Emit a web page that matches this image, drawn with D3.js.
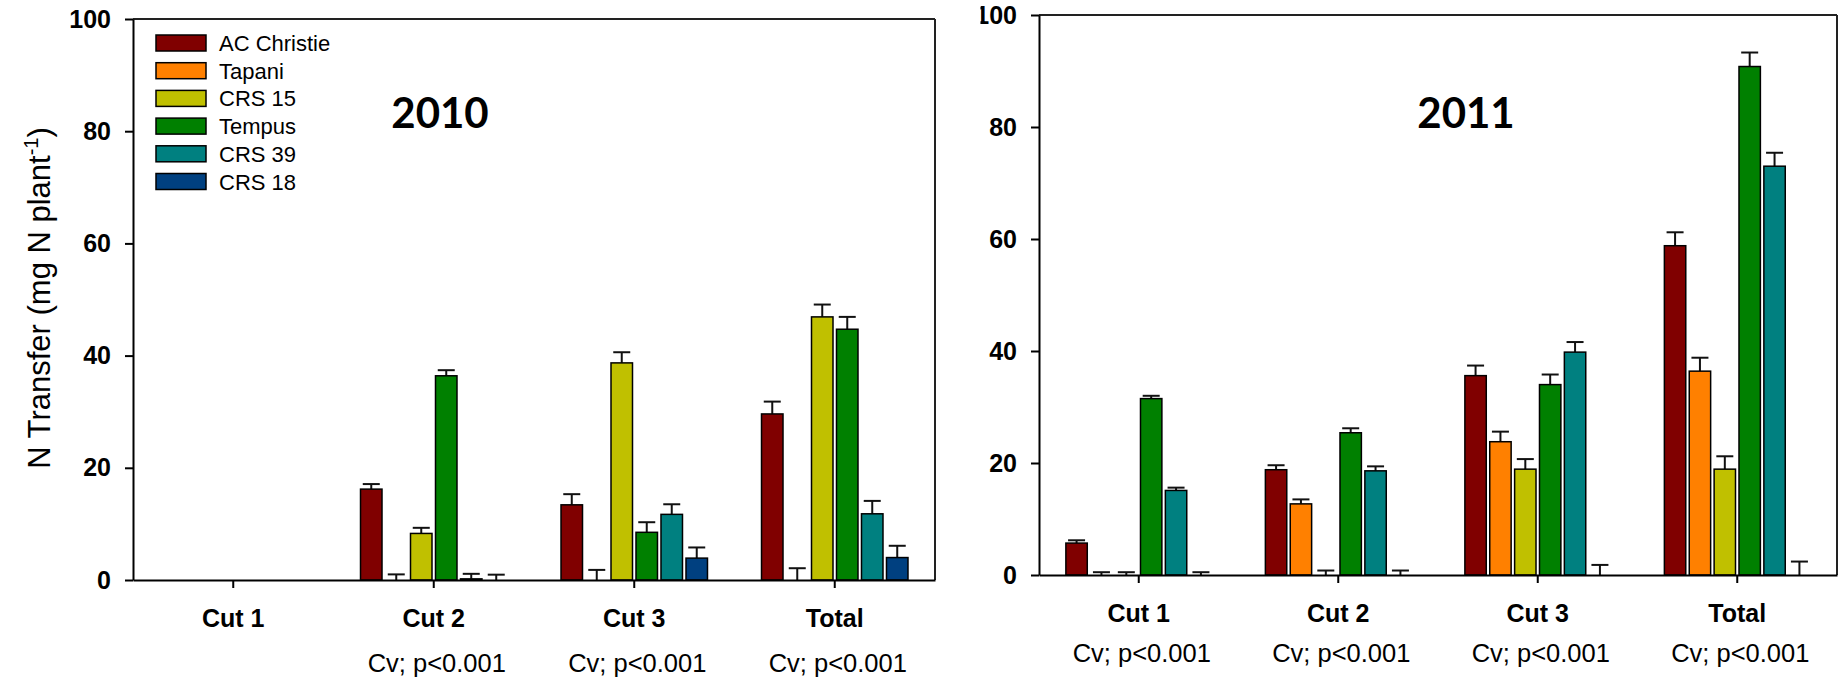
<!DOCTYPE html>
<html>
<head>
<meta charset="utf-8">
<script src="https://cdn.jsdelivr.net/npm/d3@7"></script>
<style>
  body { margin: 0; background: #fff; }
  svg { display: block; }
</style>
</head>
<body>
<svg id="chart" width="1843" height="679"></svg>
<script>
// data (mg N plant-1), mean and standard error
var series = ["AC Christie", "Tapani", "CRS 15", "Tempus", "CRS 39", "CRS 18"];
var colors = ["#800000", "#ff8000", "#c0c000", "#008000", "#008080", "#004080"];
var cuts = ["Cut 1", "Cut 2", "Cut 3", "Total"];
var yTicks = [0, 20, 40, 60, 80, 100];

var stats2010 = ["", "Cv; p<0.001", "Cv; p<0.001", "Cv; p<0.001"];
var stats2011 = ["Cv; p<0.001", "Cv; p<0.001", "Cv; p<0.001", "Cv; p<0.001"];

var mean2010 = [
    [null, null, null, null, null, null],
    [16.2, 0, 8.3, 36.4, 0.2, 0],
    [13.4, 0, 38.7, 8.5, 11.7, 3.9],
    [29.6, 0, 46.9, 44.7, 11.8, 4.0]
];
var se2010 = [
    [null, null, null, null, null, null],
    [0.9, 1.0, 1.0, 1.0, 0.9, 0.95],
    [1.9, 1.8, 1.9, 1.8, 1.8, 1.9],
    [2.2, 2.1, 2.2, 2.2, 2.3, 2.1]
];
var mean2011 = [
    [5.7, 0, 0, 31.5, 15.1, 0],
    [18.8, 12.7, 0, 25.4, 18.6, 0],
    [35.6, 23.8, 18.9, 34.0, 39.8, 0],
    [58.8, 36.4, 18.9, 90.8, 73.0, 0]
];
var se2011 = [
    [0.5, 0.5, 0.5, 0.5, 0.5, 0.5],
    [0.8, 0.8, 0.8, 0.8, 0.8, 0.8],
    [1.8, 1.8, 1.8, 1.8, 1.8, 1.8],
    [2.4, 2.4, 2.3, 2.5, 2.4, 2.4]
];

var arial = "'Liberation Sans', Arial, sans-serif";
var svg = d3.select("#chart");

// right panel was cropped on its left side in the original figure
svg.append("defs").append("clipPath").attr("id", "clipRight")
    .append("rect").attr("x", 980.5).attr("y", 0).attr("width", 900).attr("height", 679);

function drawPanel(g, p) {
    var x0 = d3.scaleBand().domain(cuts).range([p.left, p.right]);
    var x1 = d3.scaleBand().domain(series)
        .range([x0.bandwidth() * 0.126, x0.bandwidth() * 0.874])
        .paddingInner(0.14).paddingOuter(0.07);
    var y = d3.scaleLinear().domain([0, 100]).range([p.bottom, p.top]);

    // flatten into one row per bar
    var rows = [];
    cuts.forEach(function(c, i) {
        series.forEach(function(s, j) {
            if (p.mean[i][j] !== null) {
                rows.push({cut: c, name: s, color: colors[j], value: p.mean[i][j], se: p.se[i][j]});
            }
        });
    });

    var bars = g.append("g").selectAll("g.bar")
        .data(rows)
        .enter()
        .append("g")
        .attr("class", "bar")
        .attr("transform", function(d) { return "translate(" + (x0(d.cut) + x1(d.name)) + ",0)"; });

    // error bars (upper only)
    var bw = x1.bandwidth();
    bars.append("line")
        .attr("x1", bw / 2).attr("x2", bw / 2)
        .attr("y1", function(d) { return y(d.value); })
        .attr("y2", function(d) { return y(d.value + d.se); })
        .attr("stroke", "#111").attr("stroke-width", 2);
    bars.append("line")
        .attr("x1", bw / 2 - 8.5).attr("x2", bw / 2 + 8.5)
        .attr("y1", function(d) { return y(d.value + d.se); })
        .attr("y2", function(d) { return y(d.value + d.se); })
        .attr("stroke", "#111").attr("stroke-width", 2);

    bars.filter(function(d) { return d.value > 0; })
        .append("rect")
        .attr("x", 0)
        .attr("width", bw)
        .attr("y", function(d) { return y(d.value); })
        .attr("height", function(d) { return y(0) - y(d.value); })
        .attr("fill", function(d) { return d.color; })
        .attr("stroke", "#000")
        .attr("stroke-width", 1.5);

    // frame
    g.append("line").attr("x1", p.left).attr("x2", p.right).attr("y1", p.top).attr("y2", p.top)
        .attr("stroke", "#222").attr("stroke-width", 2);
    g.append("line").attr("x1", p.right).attr("x2", p.right).attr("y1", p.top).attr("y2", p.bottom)
        .attr("stroke", "#222").attr("stroke-width", 2);

    // axes
    var yAxis = g.append("g")
        .attr("transform", "translate(" + p.left + ",0)")
        .call(d3.axisLeft(y).tickValues(yTicks).tickSize(8).tickSizeOuter(0).tickPadding(14));
    yAxis.selectAll("text")
        .attr("font-family", arial).attr("font-size", 25).attr("font-weight", "bold").attr("fill", "#000");

    var xAxis = g.append("g")
        .attr("transform", "translate(0," + p.bottom + ")")
        .call(d3.axisBottom(x0).tickSize(8).tickSizeOuter(0).tickFormat(""));

    g.selectAll(".domain, .tick line").attr("stroke", "#000").attr("stroke-width", 2);

    // category labels and stats
    g.append("g").selectAll("text")
        .data(cuts)
        .enter()
        .append("text")
        .attr("x", function(d) { return x0(d) + x0.bandwidth() / 2; })
        .attr("y", p.bottom + 47)
        .attr("text-anchor", "middle")
        .attr("font-family", arial).attr("font-size", 25).attr("font-weight", "bold")
        .text(function(d) { return d; });

    g.append("g").selectAll("text")
        .data(p.stats)
        .enter()
        .append("text")
        .attr("x", function(d, i) { return x0(cuts[i]) + x0.bandwidth() / 2 + 3; })
        .attr("y", p.statsY)
        .attr("text-anchor", "middle")
        .attr("font-family", arial).attr("font-size", 25.5)
        .text(function(d) { return d; });

    g.append("text")
        .attr("x", p.titleX).attr("y", 128)
        .attr("text-anchor", "middle")
        .attr("font-family", "Lato, 'Open Sans', sans-serif").attr("font-size", 42).attr("font-weight", "bold")
        .text(p.title);
}

var left = svg.append("g");
drawPanel(left, {left: 133, right: 935, top: 19, bottom: 580, mean: mean2010, se: se2010,
    stats: stats2010, statsY: 672, title: "2010", titleX: 440});

var right = svg.append("g").attr("clip-path", "url(#clipRight)");
drawPanel(right, {left: 1039, right: 1837, top: 15, bottom: 575, mean: mean2011, se: se2011,
    stats: stats2011, statsY: 662, title: "2011", titleX: 1466});

// legend (left panel)
var legend = left.append("g").selectAll("g")
    .data(series)
    .enter()
    .append("g")
    .attr("transform", function(d, i) { return "translate(156," + (35 + i * 27.7) + ")"; });
legend.append("rect")
    .attr("width", 50).attr("height", 16)
    .attr("fill", function(d, i) { return colors[i]; })
    .attr("stroke", "#000").attr("stroke-width", 1.5);
legend.append("text")
    .attr("x", 63).attr("y", 16)
    .attr("font-family", arial).attr("font-size", 22)
    .text(function(d) { return d; });

// y axis title
var ytitle = svg.append("text")
    .attr("transform", "translate(50,298) rotate(-90)")
    .attr("text-anchor", "middle")
    .attr("font-family", arial).attr("font-size", 31);
ytitle.append("tspan").text("N Transfer (mg N plant");
ytitle.append("tspan").attr("dy", -12).attr("font-size", 20).text("-1");
ytitle.append("tspan").attr("dy", 12).text(")");
</script>
</body>
</html>
